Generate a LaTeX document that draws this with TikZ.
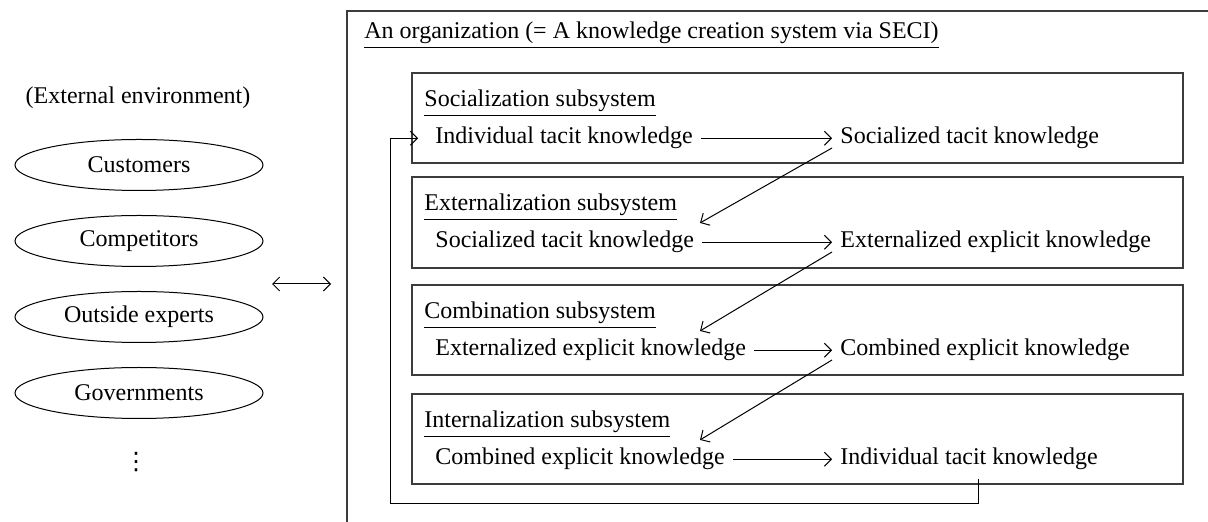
\documentclass[tikz,border=0pt]{standalone}
\usepackage{fontspec}
\setmainfont{Liberation Serif}
\newfontfamily\dotfont{DejaVu Sans}
\usetikzlibrary{arrows.meta,shapes.geometric,calc}
\definecolor{Frame}{HTML}{3C3C3C}
\tikzset{
  sysbox/.style={draw=Frame, line width=0.75pt},
  envnode/.style={ellipse, draw, line width=0.5pt, minimum width=124pt, minimum height=25.5pt, inner sep=0pt},
  know/.style={anchor=base west, inner sep=4pt},
  systitle/.style={anchor=base west, inner sep=0pt},
  flow/.style={-{Straight Barb[length=3.5pt,width=7pt]}, line width=0.5pt},
}

\begin{document}
\begin{tikzpicture}[x=0.5pt,y=-0.5pt,font=\fontsize{12}{14}\selectfont]
    \useasboundingbox (0,0) rectangle (1208,522);

    % external environment
    \node (env) at (138,98) {(External environment)};
    \node[envnode] (cust) at (139,165) {Customers};
    \node[envnode] (comp) at (139,241) {Competitors};
    \node[envnode] (expt) at (139,317) {Outside experts};
    \node[envnode] (govt) at (139,393) {Governments};
    \node (more) at (136,462) {\dotfont ⋮};
    \coordinate (xl) at (272,284);
    \coordinate (xr) at (331,284);
    \draw[flow,{Straight Barb[length=3.5pt,width=7pt]}-{Straight Barb[length=3.5pt,width=7pt]}] (xl) -- (xr);

    % the organization
    \coordinate (orgsw) at (347,530);
    \coordinate (orgne) at (1215,11);
    \draw[draw=Frame,line width=1pt] (orgsw) |- (orgne);
    \node[systitle] (org) at (364,39) {\underline{An organization (= A knowledge creation system via SECI)}};

    % subsystems
    \draw[sysbox] (412,73) rectangle (1183,163);
    \draw[sysbox] (412,177) rectangle (1183,268);
    \draw[sysbox] (412,285) rectangle (1183,375);
    \draw[sysbox] (412,394) rectangle (1183,484);

    \node[systitle] (soc) at (424,107) {\underline{Socialization subsystem}};
    \node[systitle] (ext) at (424,211) {\underline{Externalization subsystem}};
    \node[systitle] (com) at (424,319) {\underline{Combination subsystem}};
    \node[systitle] (int) at (424,428) {\underline{Internalization subsystem}};

    \node[know] (l1) at (427,144) {Individual tacit knowledge};
    \node[know] (r1) at (832,144) {Socialized tacit knowledge};
    \node[know] (l2) at (427,248) {Socialized tacit knowledge};
    \node[know] (r2) at (832,248) {Externalized explicit knowledge};
    \node[know] (l3) at (427,356) {Externalized explicit knowledge};
    \node[know] (r3) at (832,356) {Combined explicit knowledge};
    \node[know] (l4) at (427,465) {Combined explicit knowledge};
    \node[know] (r4) at (832,465) {Individual tacit knowledge};

    \draw[flow] (l1) -- (r1);
    \draw[flow] (l2) -- (r2);
    \draw[flow] (l3) -- (r3);
    \draw[flow] (l4) -- (r4);

    % spiral between subsystems
    \coordinate (tip) at (700,0);
    \draw[flow] ([yshift=-2pt]r1.base west) -- (l2.north -| tip);
    \draw[flow] ([yshift=-2pt]r2.base west) -- (l3.north -| tip);
    \draw[flow] ([yshift=-2pt]r3.base west) -- (l4.north -| tip);

    % back to the start
    \coordinate (loop) at (390,504);
    \draw[flow] ([xshift=4.5pt]r4.south) |- (loop) |- ([xshift=-4.5pt]l1.west);
\end{tikzpicture}
\end{document}
